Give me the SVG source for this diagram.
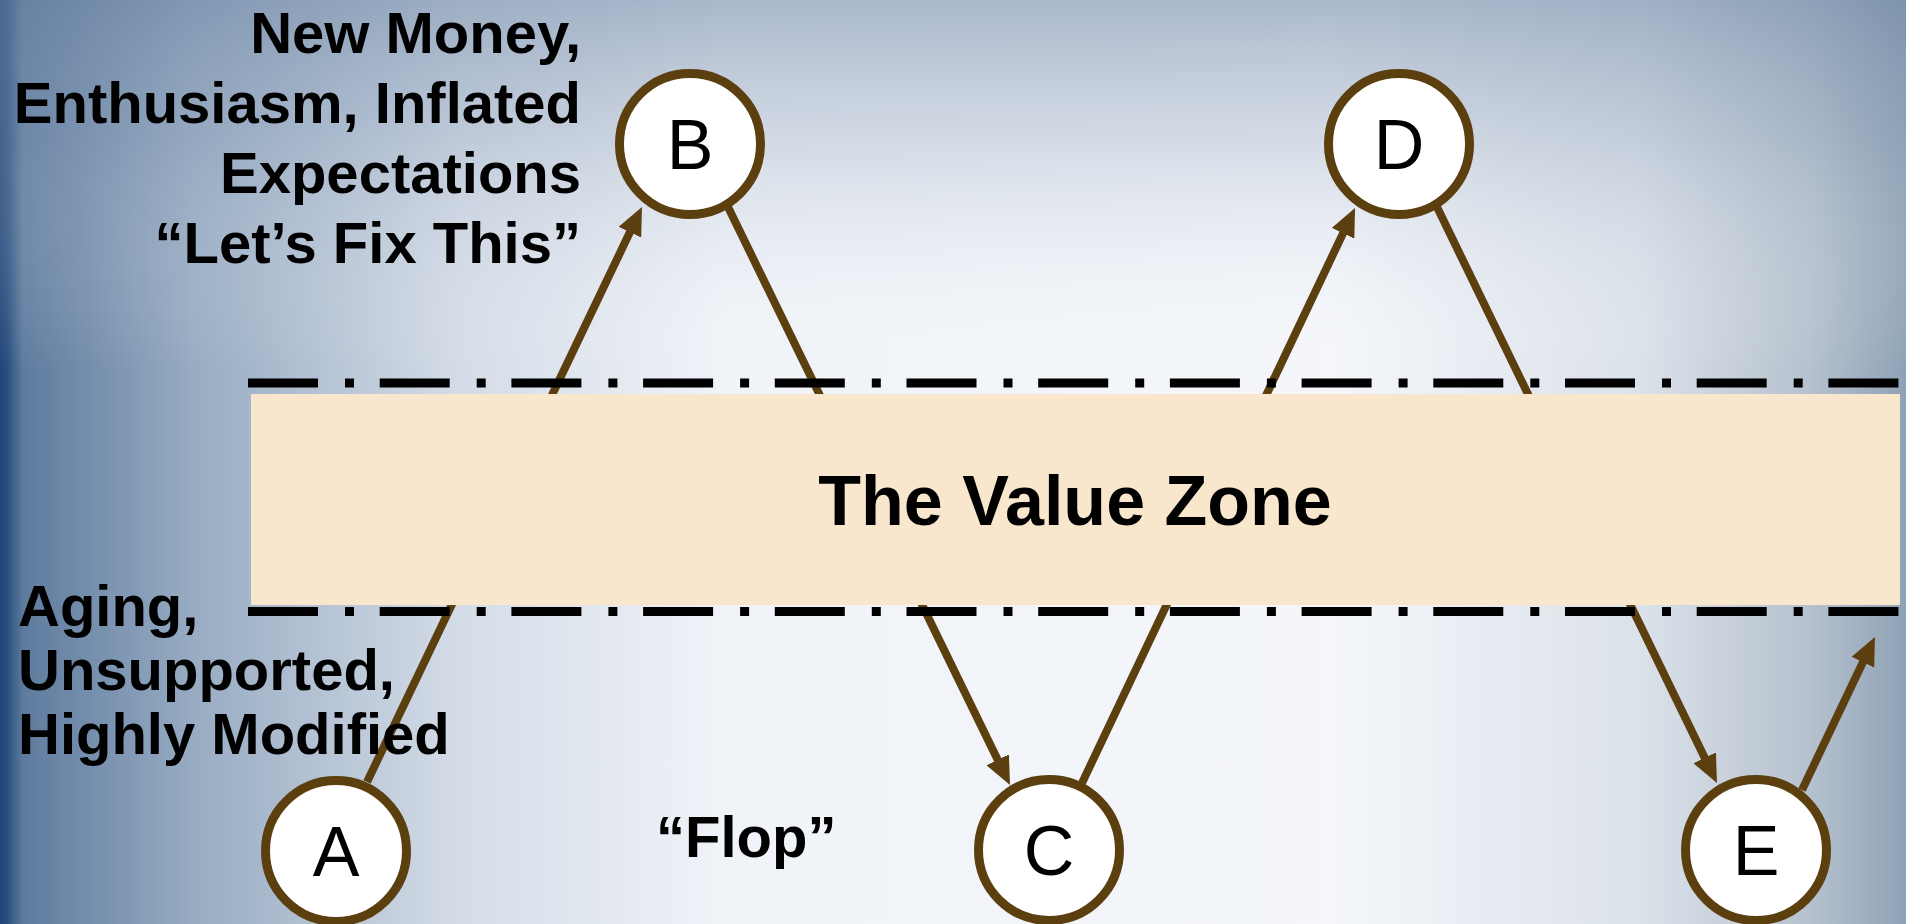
<svg xmlns="http://www.w3.org/2000/svg" width="1906" height="924" viewBox="0 0 1906 924">
  <defs>
    <linearGradient id="bgH" x1="0" y1="0" x2="1906" y2="0" gradientUnits="userSpaceOnUse">
      <stop offset="0" stop-color="#1F4676"/>
      <stop offset="0.004" stop-color="#2A5080"/>
      <stop offset="0.012" stop-color="#5E7B9E"/>
      <stop offset="0.1" stop-color="#97ABC2"/>
      <stop offset="0.24" stop-color="#D4DCE7"/>
      <stop offset="0.38" stop-color="#F0F3F8"/>
      <stop offset="0.7" stop-color="#F4F6FA"/>
      <stop offset="0.86" stop-color="#DCE2EA"/>
      <stop offset="0.95" stop-color="#B5C1CE"/>
      <stop offset="1" stop-color="#8FA2B5"/>
    </linearGradient>
    <linearGradient id="bgV" x1="0" y1="0" x2="0" y2="924" gradientUnits="userSpaceOnUse">
      <stop offset="0" stop-color="#6F87A6" stop-opacity="0.55"/>
      <stop offset="0.15" stop-color="#8FA1BA" stop-opacity="0.32"/>
      <stop offset="0.4" stop-color="#FFFFFF" stop-opacity="0"/>
      <stop offset="1" stop-color="#FFFFFF" stop-opacity="0"/>
    </linearGradient>
    <marker id="arrow" markerUnits="userSpaceOnUse" markerWidth="28" markerHeight="25" refX="13" refY="12.5" orient="auto">
      <path d="M0,0 L28,12.5 L0,25 z" fill="#5C3F0F"/>
    </marker>
  </defs>
  <style>
    .conn { stroke: #5C3F0F; stroke-width: 8; fill: none; }
    .node circle { fill: #FFFFFF; stroke: #5C3F0F; stroke-width: 9; }
    .node text { font-family: "Liberation Sans", Arial, sans-serif; font-size: 70px; fill: #000; text-anchor: middle; }
    .lbl { font-family: "Liberation Sans", Arial, sans-serif; font-weight: bold; font-size: 58px; fill: #000; }
    .end { text-anchor: end; }
    .dash { stroke: #000; stroke-width: 9; stroke-dasharray: 70 27 9 25.7; fill: none; }
  </style>

  <rect x="0" y="0" width="1906" height="924" fill="url(#bgH)"/>
  <rect x="0" y="0" width="1906" height="924" fill="url(#bgV)"/>

  <g id="connectors">
    <line class="conn" x1="367" y1="782" x2="635.5" y2="220.5" marker-end="url(#arrow)"/>
    <line class="conn" x1="728" y1="207" x2="1003.4" y2="771.5" marker-end="url(#arrow)"/>
    <line class="conn" x1="1082" y1="783" x2="1348.6" y2="221.6" marker-end="url(#arrow)"/>
    <line class="conn" x1="1437" y1="207" x2="1710.4" y2="769.5" marker-end="url(#arrow)"/>
    <line class="conn" x1="1802" y1="790" x2="1868.5" y2="650.5" marker-end="url(#arrow)"/>
  </g>

  <g id="value-zone">
    <rect x="251" y="394" width="1649" height="211" fill="#F8E6CD"/>
    <line class="dash" x1="248" y1="383" x2="1899" y2="383"/>
    <line class="dash" x1="248" y1="611.5" x2="1899" y2="611.5"/>
    <text x="1075" y="525" text-anchor="middle" font-family="Liberation Sans, Arial, sans-serif" font-weight="bold" font-size="70" fill="#000">The Value Zone</text>
  </g>

  <g id="node-A" class="node">
    <circle cx="336" cy="851" r="70.5"/>
    <text x="336" y="876">A</text>
  </g>
  <g id="node-B" class="node">
    <circle cx="690" cy="144" r="70.5"/>
    <text x="690" y="169">B</text>
  </g>
  <g id="node-C" class="node">
    <circle cx="1049" cy="850" r="70.5"/>
    <text x="1049" y="875">C</text>
  </g>
  <g id="node-D" class="node">
    <circle cx="1399" cy="144" r="70.5"/>
    <text x="1399" y="169">D</text>
  </g>
  <g id="node-E" class="node">
    <circle cx="1756" cy="850" r="70.5"/>
    <text x="1756" y="875">E</text>
  </g>

  <g id="label-top">
    <text class="lbl end" x="581" y="53">New Money,</text>
    <text class="lbl end" x="581" y="123">Enthusiasm, Inflated</text>
    <text class="lbl end" x="581" y="193">Expectations</text>
    <text class="lbl end" x="581" y="263">“Let’s Fix This”</text>
  </g>
  <g id="label-bottom">
    <text class="lbl" x="18" y="626">Aging,</text>
    <text class="lbl" x="18" y="690">Unsupported,</text>
    <text class="lbl" x="18" y="754">Highly Modified</text>
  </g>
  <g id="label-flop">
    <text class="lbl" x="656" y="857">“Flop”</text>
  </g>
</svg>
